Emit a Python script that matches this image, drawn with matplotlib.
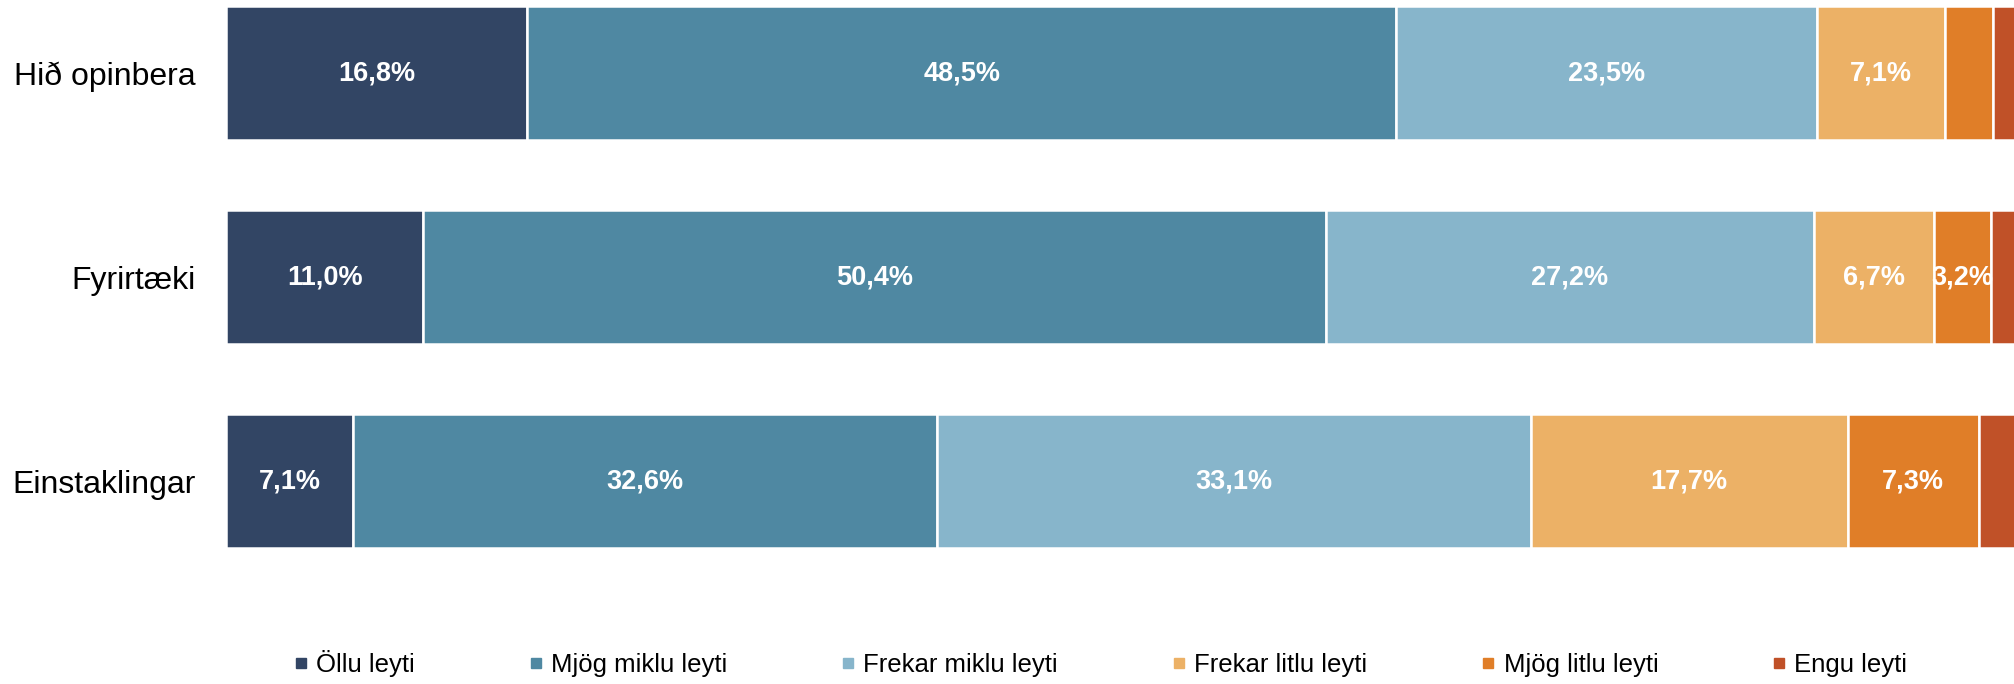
import matplotlib
matplotlib.use("Agg")
import matplotlib.pyplot as plt
from matplotlib.lines import Line2D

categories = ["Hið opinbera", "Fyrirtæki", "Einstaklingar"]
series = ["Öllu leyti", "Mjög miklu leyti", "Frekar miklu leyti",
          "Frekar litlu leyti", "Mjög litlu leyti", "Engu leyti"]
oll = [16.8, 11.0, 7.1]
mjog_miklu = [48.5, 50.4, 32.6]
frekar_miklu = [23.5, 27.2, 33.1]
frekar_litlu = [7.1, 6.7, 17.7]
mjog_litlu = [2.7, 3.2, 7.3]
engu = [1.4, 1.5, 2.2]
colors = ["#324564", "#4f88a2", "#87b5cb", "#ecb166", "#e07e28", "#c05128"]

values = [oll, mjog_miklu, frekar_miklu, frekar_litlu, mjog_litlu, engu]

plt.rcParams['font.family'] = ['Liberation Sans', 'DejaVu Sans']

fig = plt.figure(figsize=(20.15, 6.84), dpi=100)
ax = fig.add_axes([0.1122, 0.1228, 0.8893, 0.8772])

y = list(range(len(categories)))
left = [0.0] * len(categories)
for vals, col in zip(values, colors):
    ax.barh(y, vals, left=left, height=0.66, color=col,
            edgecolor="white", linewidth=1.8)
    for i, v in enumerate(vals):
        # small segments at the right end are not labeled
        if v >= 3:
            ax.text(left[i] + v / 2, y[i], f"{v:.1f}%".replace(".", ","),
                    ha="center", va="center", color="white",
                    fontsize=19.5, fontweight="bold")
    left = [l + v for l, v in zip(left, vals)]

ax.set_xlim(0, 100)
ax.set_ylim(2.583, -0.358)
ax.set_yticks(y)
ax.set_yticklabels(categories, fontsize=23)
ax.tick_params(axis="y", length=0, pad=22)
ax.set_xticks([])
for s in ax.spines.values():
    s.set_visible(False)

handles = [Line2D([], [], marker="s", linestyle="none", markersize=7,
                  markerfacecolor=c, markeredgecolor=c) for c in colors]
fig.legend(handles, series, loc="center", bbox_to_anchor=(0.546, 0.03),
           ncol=6, frameon=False, prop={"size": 18.5},
           handlelength=0.6, handletextpad=0.3, columnspacing=4.4)

fig.savefig("out.png", dpi=100)
